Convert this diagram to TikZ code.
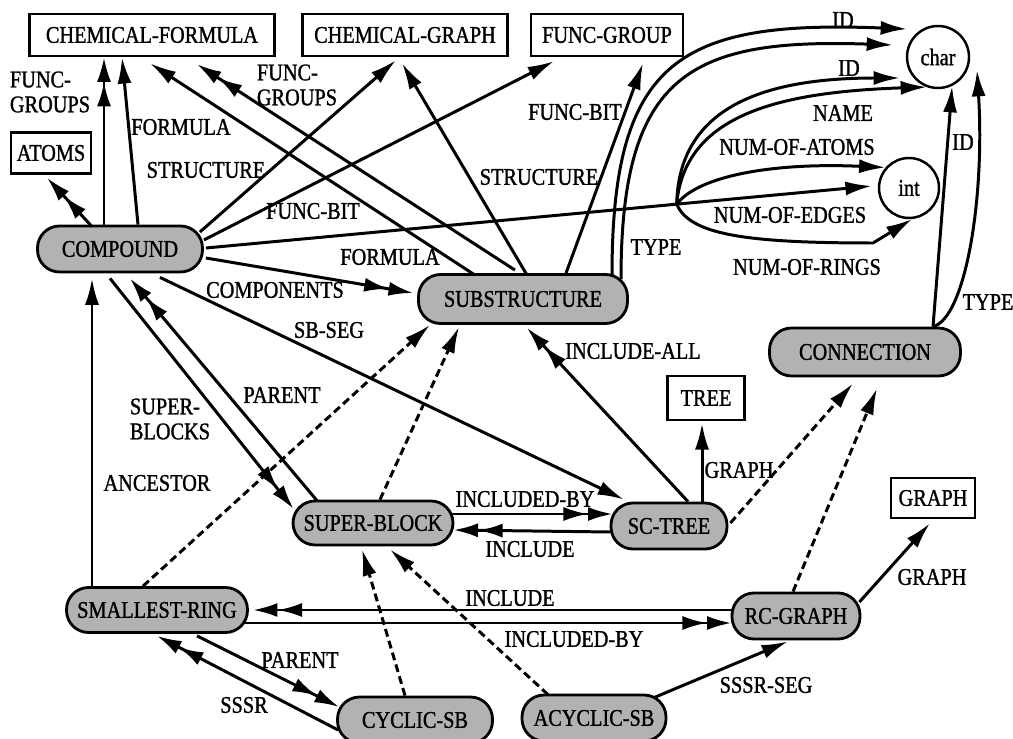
\documentclass[tikz,border=0pt]{standalone}
\usepackage{fontspec}
\setmainfont{Liberation Serif}[FakeStretch=0.85,FakeBold=1.2]
\usetikzlibrary{arrows.meta,calc}
\tikzset{
  cls/.style={draw,rectangle,rounded corners=0.44cm,line width=1.6pt,fill=black!30,inner sep=0pt},
  typ/.style={draw,rectangle,line width=1.4pt,minimum height=0.84cm,inner sep=0pt},
  prim/.style={draw,circle,line width=1.4pt,inner sep=0pt},
  lbl/.style={inner sep=0pt,align=left},
  rel/.style={line width=1.7pt,-{Latex[length=15pt,width=8pt]}},
  rel2/.style={line width=1.7pt,-{Latex[length=14pt,width=8pt] Latex[length=14pt,width=8pt]}},
  isa/.style={rel,dash pattern=on 4.5pt off 2.5pt},
}
\begin{document}
\begin{tikzpicture}[x=0.02cm,y=-0.02cm,font=\fontsize{13.6}{14.2}\selectfont]
\useasboundingbox (0,0) rectangle (1013,739);
% classes
\node[cls,minimum width=3.3cm,minimum height=0.92cm] (comp) at (120,249) {COMPOUND};
\node[cls,minimum width=4.18cm,minimum height=0.98cm] (sub) at (523,299) {SUBSTRUCTURE};
\node[cls,minimum width=3.82cm,minimum height=0.96cm] (conn) at (865,352) {CONNECTION};
\node[cls,minimum width=3.2cm,minimum height=0.88cm] (sb) at (373,523) {SUPER-BLOCK};
\node[cls,minimum width=2.32cm,minimum height=0.92cm] (sct) at (669,526) {SC-TREE};
\node[cls,minimum width=3.62cm,minimum height=0.9cm] (sr) at (157,610) {SMALLEST-RING};
\node[cls,minimum width=2.56cm,minimum height=0.92cm] (rcg) at (796,616) {RC-GRAPH};
\node[cls,minimum width=3.1cm,minimum height=0.92cm] (csb) at (415,720) {CYCLIC-SB};
\node[cls,minimum width=2.88cm,minimum height=0.92cm] (asb) at (594,718) {ACYCLIC-SB};
% types
\node[typ,minimum width=4.9cm] (cf) at (152,35) {CHEMICAL-FORMULA};
\node[typ,minimum width=4.1cm] (cg) at (405,35) {CHEMICAL-GRAPH};
\node[typ,minimum width=3.04cm] (fg) at (607,35) {FUNC-GROUP};
\node[typ,minimum width=1.6cm,minimum height=0.82cm] (atoms) at (51,153) {ATOMS};
\node[typ,minimum width=1.54cm,minimum height=0.88cm] (tree) at (706,398) {TREE};
\node[typ,minimum width=1.68cm,minimum height=0.8cm] (graph) at (933,498) {GRAPH};
\node[prim,minimum size=1.24cm] (chr) at (938,57) {char};
\node[prim,minimum size=1.2cm] (int) at (909,188) {int};
% labels
\node[lbl] (lfga) at (50,92) {FUNC-\\GROUPS};
\node[lbl] (lfa) at (181,127) {FORMULA};
\node[lbl] (lsa) at (206,170) {STRUCTURE};
\node[lbl] (lfgb) at (297,85) {FUNC-\\GROUPS};
\node[lbl] (lfba) at (313,211) {FUNC-BIT};
\node[lbl] (lfb) at (390,257) {FORMULA};
\node[lbl] (lsb) at (539,177) {STRUCTURE};
\node[lbl] (lfbb) at (575,112) {FUNC-BIT};
\node[lbl] (lta) at (656,247) {TYPE};
\node[lbl] (lida) at (843,20) {ID};
\node[lbl] (lidb) at (849,68) {ID};
\node[lbl] (lname) at (843,113) {NAME};
\node[lbl] (latoms) at (797,147) {NUM-OF-ATOMS};
\node[lbl] (ledges) at (790,215) {NUM-OF-EDGES};
\node[lbl] (lrings) at (807,267) {NUM-OF-RINGS};
\node[lbl] (lidc) at (963,142) {ID};
\node[lbl] (ltb) at (988,302) {TYPE};
\node[lbl] (lcomp) at (275,290) {COMPONENTS};
\node[lbl] (lsbseg) at (329,330) {SB-SEG};
\node[lbl] (linca) at (633,351) {INCLUDE-ALL};
\node[lbl] (lpa) at (282,395) {PARENT};
\node[lbl] (lsup) at (170,419) {SUPER-\\BLOCKS};
\node[lbl] (lanc) at (157,483) {ANCESTOR};
\node[lbl] (lgra) at (739,470) {GRAPH};
\node[lbl] (libya) at (525,499) {INCLUDED-BY};
\node[lbl] (linc) at (530,549) {INCLUDE};
\node[lbl] (lincb) at (510,598) {INCLUDE};
\node[lbl] (libyb) at (574,639) {INCLUDED-BY};
\node[lbl] (lgrb) at (932,577) {GRAPH};
\node[lbl] (lpb) at (300,660) {PARENT};
\node[lbl] (lsssr) at (244,705) {SSSR};
\node[lbl] (lseg) at (766,685) {SSSR-SEG};
% compound
\draw[rel2] ($(comp.north)+(-28,2)$) -- ($(atoms.south)+(-4,3)$);
\draw[rel2] ($(comp.north)+(-16,0)$) -- ($(cf.south)+(-48,0)$);
\draw[rel] ($(comp.north)+(18,0)$) -- ($(cf.south)+(-30,0)$);
\draw[rel] ($(comp.east)+(-4,-17)$) -- ($(cg.south)+(-9,3)$);
\draw[rel] ($(comp.east)+(0,-9)$) -- ($(fg.south)+(-53,4)$);
\draw[rel] ($(comp.east)+(2,-1)$) -- coordinate[pos=0.707] (br) ($(int.west)+(-6,-2)$);
\draw[rel2] ($(comp.east)+(2,9)$) -- ($(sub.west)+(-4,-6)$);
\draw[rel] ($(comp.south)+(40,4)$) -- ($(sct.north)+(-45,-2)$);
\draw[rel2] ($(comp.south)+(-10,5)$) -- ($(sb.west)+(2,-14)$);
\draw[rel2] ($(sb.north)+(-56,1)$) -- ($(comp.south)+(10,5)$);
\draw[rel] ($(sr.north)+(-65,0)$) -- ($(comp.south)+(-28,5)$);
% attributes of compound
\draw[rel] (br) .. controls +(2,-95) and +(-140,0) .. ($(chr)+(-38,21)$);
\draw[rel] (br) .. controls +(8,-90) and +(-147,5) .. ($(chr)+(-11,30)$);
\draw[rel] (br) .. controls +(23,-30) and +(-106,-5) .. (int.139);
\draw[rel] (br) .. controls +(13,30) and +(-130,0) .. ($(int)+(-36,55)$) -- (int.-84);
% substructure
\draw[rel] ($(sub.north)+(-48,2)$) -- ($(cf.south)+(-2,6)$);
\draw[rel2] ($(sub.north)+(-8,-3)$) -- ($(cf.south)+(45,7)$);
\draw[rel] ($(sub.north)+(4,2)$) -- ($(cg.south)+(-3,6)$);
\draw[rel] ($(sub.north)+(43,0)$) -- ($(fg.south)+(36,6)$);
\draw[rel] ($(sub.north)+(89,2)$) .. controls +(0,-216) and +(-227,-9) .. ($(chr)+(-31,-28)$);
\draw[rel] ($(sub.north)+(98,6)$) .. controls +(0,-205) and +(-203,-7) .. ($(chr)+(-45,-12)$);
% connection
\draw[rel] ($(conn.north)+(68,0)$) -- (chr.-64);
\draw[rel] ($(conn.north)+(68,0)$) .. controls +(32,-8) and +(8,130) .. ($(chr)+(39,13)$);
% sc-tree
\draw[rel2] ($(sct.north)+(19,0)$) -- ($(sub.south)+(4,3)$);
\draw[rel] ($(sct.north)+(33,0)$) -- ($(tree.south)+(-4,2)$);
\draw[isa] ($(sct.east)+(2,-3)$) -- ($(conn.south)+(-12,6)$);
\draw[rel2] ($(sb.east)+(-2,-9)$) -- ($(sct.west)+(3,-12)$);
\draw[rel2] ($(sct.west)+(1,6)$) -- ($(sb.east)+(-1,7)$);
% smallest-ring and rc-graph
\draw[rel2] ($(rcg.west)+(1,-6)$) -- ($(sr.east)+(4,0)$);
\draw[rel2] ($(sr.east)+(-4,13)$) -- ($(rcg.west)+(1,7)$);
\draw[rel] ($(rcg.east)+(-2,-14)$) -- ($(graph.south)+(-3,4)$);
\draw[isa] ($(rcg.north)+(-3,0)$) -- ($(conn.south)+(12,11)$);
\draw[rel] ($(asb.north)+(60,4)$) -- ($(rcg.south)+(-8,1)$);
\draw[rel2] ($(sr.south)+(40,2)$) -- ($(csb.west)+(3,-13)$);
\draw[rel2] ($(csb.west)+(2,10)$) -- ($(sr.south)+(0,2)$);
% dashed links
\draw[isa] ($(sr.north)+(-14,0)$) -- ($(sub.south)+(-93,0)$);
\draw[isa] ($(sb.north)+(7,0)$) -- ($(sub.south)+(-64,2)$);
\draw[isa] ($(csb.north)+(-10,0)$) -- ($(sb.south)+(-11,3)$);
\draw[isa] ($(asb.north)+(-46,1)$) -- ($(sb.south)+(17,3)$);
\end{tikzpicture}
\end{document}
